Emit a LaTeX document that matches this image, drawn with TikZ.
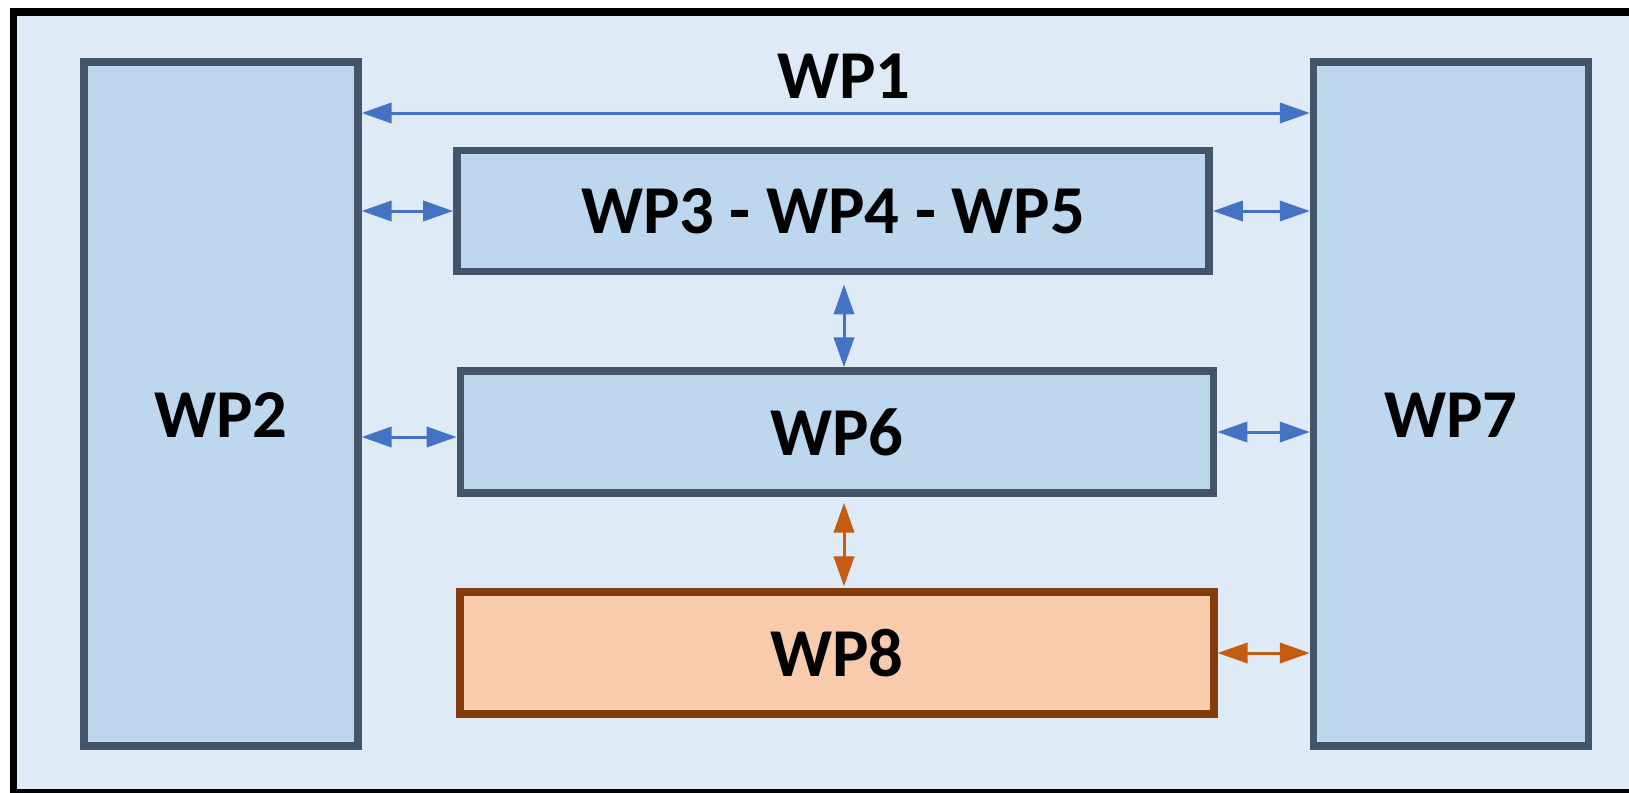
\documentclass[tikz,border=0pt]{standalone}
\usepackage{fontspec}
\setmainfont{Carlito}
\usepackage{xcolor}
\usetikzlibrary{positioning,arrows.meta,calc}

\definecolor{bgblue}{HTML}{DEEBF7}
\definecolor{boxblue}{HTML}{BDD7EE}
\definecolor{boxline}{HTML}{44546A}
\definecolor{linkblue}{HTML}{4472C4}
\definecolor{boxorange}{HTML}{F8CBAD}
\definecolor{lineorange}{HTML}{843C0C}
\definecolor{linkorange}{HTML}{C55A11}

\newcommand{\lowtext}[1]{\raisebox{-0.22cm}[\height][0pt]{#1}}

\tikzset{
  wpbox/.style={draw=boxline, fill=boxblue, line width=0.15cm, inner sep=0pt,
    font=\fontsize{39}{45}\selectfont\bfseries},
  wporange/.style={wpbox, draw=lineorange, fill=boxorange},
  link/.style={line width=0.06cm, draw=linkblue,
    {Triangle[length=17pt,width=11.5pt,fill=linkblue]}-{Triangle[length=17pt,width=11.5pt,fill=linkblue]}},
  linkor/.style={link, draw=linkorange,
    {Triangle[length=17pt,width=11.5pt,fill=linkorange]}-{Triangle[length=17pt,width=11.5pt,fill=linkorange]}}
}

\begin{document}
\begin{tikzpicture}[x=0.02cm, y=-0.02cm]
\useasboundingbox (0,0) rectangle (1629,792);
\clip (0,0) rectangle (1629,792);
% frame
\draw[fill=bgblue, line width=0.15cm] (13.5,12) rectangle (1640,793);

% work packages
\node[wpbox, minimum width=5.48cm, minimum height=13.68cm] (wp2) at (221,404) {\lowtext{WP2}};
\node[wpbox, minimum width=5.5cm, minimum height=13.68cm] (wp7) at (1451,404) {\lowtext{WP7}};
\node[wpbox, minimum width=15.05cm, minimum height=2.43cm] (wp345) at (833,211) {WP3 - WP4 - WP5};
\node[wpbox, minimum width=15.07cm, minimum height=2.44cm] (wp6) at (837,432) {WP6};
\node[wporange, minimum width=15.08cm, minimum height=2.44cm] (wp8) at (837,653) {WP8};
\node[font=\fontsize{39}{45}\selectfont\bfseries] (wp1) at (844,76) {WP1};

% links
\coordinate (top) at (0,113);
\coordinate (mid) at ($(wp6.north)+(7,0)$);
\draw[link] (wp2.east |- top) -- (wp7.west |- top);
\draw[link] (wp2.east |- wp345.west) -- (wp345.west);
\draw[link] (wp345.east) -- (wp7.west |- wp345.east);
\draw[link] ([yshift=-0.1cm]wp2.east |- wp6.west) -- ([yshift=-0.1cm]wp6.west);
\draw[link] (wp6.east) -- (wp7.west |- wp6.east);
\draw[link, shorten <=0.18cm] (wp345.south -| mid) -- (mid);
\draw[linkor, shorten <=0.12cm, shorten >=0.04cm] (wp6.south -| mid) -- (wp8.north -| mid);
\draw[linkor] (wp8.east) -- (wp7.west |- wp8.east);
\end{tikzpicture}
\end{document}
